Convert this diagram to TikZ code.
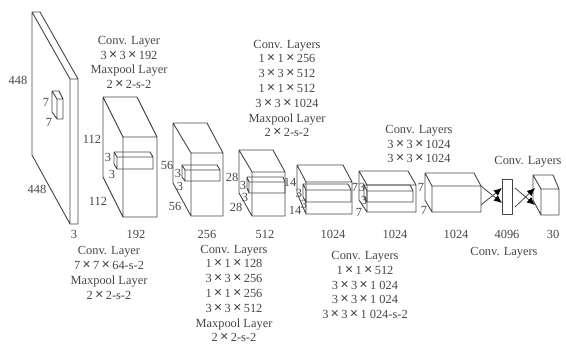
\documentclass[tikz,border=0pt]{standalone}
\usepackage{xcolor}
\usepackage{fontspec}
\setmainfont{Liberation Serif}
\usepackage{tikz}
\usetikzlibrary{arrows.meta}
\definecolor{inkgray}{RGB}{70,70,70}
\newcommand{\tm}{\kern2.2pt{\fontsize{15}{15}\selectfont\bfseries ×}\kern2.2pt}

\begin{document}
\begin{tikzpicture}[x=1pt, y=-1pt, block/.style={draw=inkgray, line width=0.9pt, line join=round}, caption/.style={align=center, text=inkgray, font=\fontsize{12.4}{14.8}\selectfont, inner sep=0pt}, dim/.style={text=inkgray, font=\fontsize{12.4}{14}\selectfont, inner sep=0pt}, rel/.style={-{Latex[length=8pt,width=7pt,black]}, draw=inkgray, line width=0.8pt}]
\useasboundingbox (0,0) rectangle (566,344);
% back left, back right, back top, back bottom, front left, front right, front top, front bottom
\foreach \bl/\br/\bt/\bb/\fl/\fr/\ft/\fb in {
  32/40/12/155/70/78/79/224,
  52/59/91/112/57/63/99/119,
  103/137/97/177/123/157/137/217,
  114/150/152/164/117/153/157/169,
  173/207/123/183/191/223/153/216,
  182/217/165/177/185/220/170/181,
  239/273/150/193/252/285/172/216,
  247/283/177/188/249/285/182/193,
  297/343/165/193/306/352/182/214,
  303/348/184/197/306/351/190/202,
  359/408/171/200/367/416/185/212,
  364/410/185/197/367/413/191/202,
  425/474/173/200/432/481/186/212,
  533/553/175/200/541/559/189/215}
  \draw[block] (\bl,\bt) -- (\br,\bt) -- (\fr,\ft) -- (\fr,\fb) -- (\fl,\fb) -- (\bl,\bb) -- cycle
    (\bl,\bt) -- (\fl,\ft) -- (\fl,\fb) (\fl,\ft) -- (\fr,\ft);
\node[block, minimum width=10pt, minimum height=35pt, inner sep=0pt] (bar) at (507,196.5) {};

\coordinate (outA) at (481,186);
\coordinate (outB) at (481,205);
\coordinate (inA) at (502,203);
\coordinate (inB) at (502,188);
\coordinate (barA) at (515,188);
\coordinate (barB) at (515,207);
\coordinate (lastA) at (535,205);
\coordinate (lastB) at (535,188);
\draw[rel] (outA) -- (inA);
\draw[rel] (outB) -- (inB);
\draw[rel] (barA) -- (lastA);
\draw[rel] (barB) -- (lastB);

\node[caption] (capA) at (129,62.5) {Conv. Layer\\3\tm3\tm192\\Maxpool Layer\\2\tm2-s-2};
\node[caption] (capB) at (287,88.5) {Conv. Layers\\1\tm1\tm256\\3\tm3\tm512\\1\tm1\tm512\\3\tm3\tm1024\\Maxpool Layer\\2\tm2-s-2};
\node[caption] (capC) at (419,144) {Conv. Layers\\3\tm3\tm1024\\3\tm3\tm1024};
\node[caption] (capD) at (528,162) {Conv. Layers};
\node[caption] (capE) at (109,273) {Conv. Layer\\7\tm7\tm64-s-2\\Maxpool Layer\\2\tm2-s-2};
\node[caption] (capF) at (234,293.5) {Conv. Layers\\1\tm1\tm128\\3\tm3\tm256\\1\tm1\tm256\\3\tm3\tm512\\Maxpool Layer\\2\tm2-s-2};
\node[caption] (capG) at (365,285) {Conv. Layers\\1\tm1\tm512\\3\tm3\tm1 024\\3\tm3\tm1 024\\3\tm3\tm1 024-s-2};
\node[caption] (capH) at (504,253) {Conv. Layers};

\node[dim] (depthA) at (74,234) {3};
\node[dim] (depthB) at (136,234) {192};
\node[dim] (depthC) at (207,234) {256};
\node[dim] (depthD) at (265,234) {512};
\node[dim] (depthE) at (333,234) {1024};
\node[dim] (depthF) at (395,234) {1024};
\node[dim] (depthG) at (456,234) {1024};
\node[dim] (depthH) at (507,234) {4096};
\node[dim] (depthI) at (553,234) {30};

\node[dim] (inH) at (18,80) {448};
\node[dim] (inW) at (37,189) {448};
\node[dim] (kernH) at (46,102) {7};
\node[dim] (kernW) at (49,122) {7};
\node[dim] (sizeBh) at (92,139) {112};
\node[dim] (sizeBw) at (98,201) {112};
\node[dim] (kernBh) at (108,157) {3};
\node[dim] (kernBw) at (112,174) {3};
\node[dim] (sizeCh) at (167,165) {56};
\node[dim] (sizeCw) at (175,206) {56};
\node[dim] (kernCh) at (178,173) {3};
\node[dim] (kernCw) at (180,186) {3};
\node[dim] (sizeDh) at (232,177) {28};
\node[dim] (sizeDw) at (236,207) {28};
\node[dim] (kernDh) at (243,185) {3};
\node[dim] (kernDw) at (245,197) {3};
\node[dim] (sizeEh) at (290,182) {14};
\node[dim] (sizeEw) at (295,210) {14};
\node[dim] (kernEh) at (299,193) {3};
\node[dim] (kernEw) at (304,204) {3};
\node[dim] (sizeFh) at (355,187) {7};
\node[dim] (sizeFw) at (359,212.5) {7};
\node[dim] (kernFh) at (362,187.5) {3};
\node[dim] (kernFw) at (364,200) {3};
\node[dim] (sizeGh) at (421,187) {7};
\node[dim] (sizeGw) at (424,210) {7};
\end{tikzpicture}
\end{document}
